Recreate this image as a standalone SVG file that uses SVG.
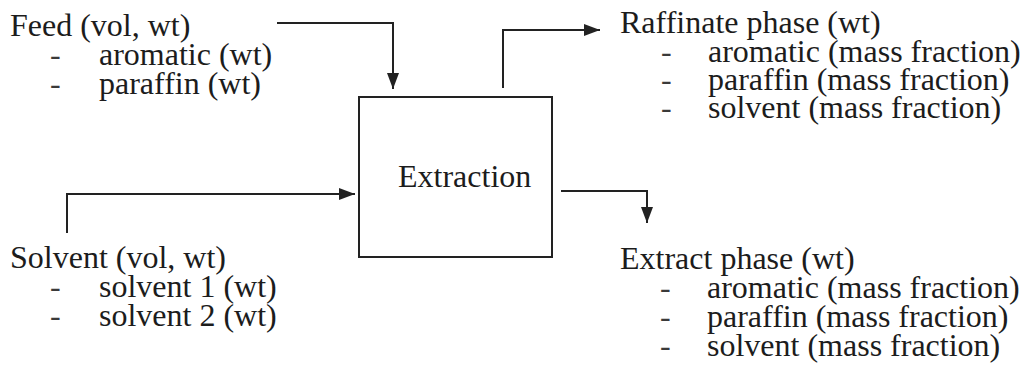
<svg xmlns="http://www.w3.org/2000/svg" width="1024" height="373" viewBox="0 0 1024 373">
  <style>
    text { font-family: "Liberation Serif", "Times New Roman", serif; font-size: 32px; fill: #1c1c1c; }
    .dash { fill: #3a3a3a; }
    .line { fill: none; stroke: #222; stroke-width: 2; }
    .box { fill: #fff; stroke: #222; stroke-width: 2; }
  </style>
  <defs>
    <marker id="head" viewBox="0 0 16 12" refX="16" refY="6" markerWidth="16" markerHeight="12" markerUnits="userSpaceOnUse" orient="auto">
      <path d="M0,0 L16,6 L0,12 Z" fill="#222"/>
    </marker>
  </defs>
  <rect width="1024" height="373" fill="#fff"/>

  <g id="connectors">
    <!-- feed stream into the top of the extractor -->
    <path class="line" d="M277,23 H393 V89" marker-end="url(#head)"/>
    <!-- solvent stream into the left side -->
    <path class="line" d="M67,233 V194 H355" marker-end="url(#head)"/>
    <!-- raffinate leaving from the top -->
    <path class="line" d="M503,88 V30 H600" marker-end="url(#head)"/>
    <!-- extract leaving from the right side -->
    <path class="line" d="M561,191 H647 V223" marker-end="url(#head)"/>
  </g>

  <g id="extraction">
    <rect class="box" x="359" y="97" width="193" height="160"/>
    <text x="398" y="187">Extraction</text>
  </g>

  <!-- each stream is one text block: heading line plus dashed item lines -->
  <g id="feed">
    <text>
      <tspan x="10" y="36">Feed (vol, wt)</tspan>
      <tspan class="dash" x="50" y="65">-</tspan><tspan x="99" y="65">aromatic (wt)</tspan>
      <tspan class="dash" x="50" y="94">-</tspan><tspan x="99" y="94">paraffin (wt)</tspan>
    </text>
  </g>

  <g id="solvent">
    <text>
      <tspan x="10" y="268">Solvent (vol, wt)</tspan>
      <tspan class="dash" x="50" y="297">-</tspan><tspan x="99" y="297">solvent 1 (wt)</tspan>
      <tspan class="dash" x="50" y="326">-</tspan><tspan x="99" y="326">solvent 2 (wt)</tspan>
    </text>
  </g>

  <g id="raffinate">
    <text>
      <tspan x="620" y="33">Raffinate phase (wt)</tspan>
      <tspan class="dash" x="661" y="62">-</tspan><tspan x="708" y="62">aromatic (mass fraction)</tspan>
      <tspan class="dash" x="661" y="90">-</tspan><tspan x="708" y="90">paraffin (mass fraction)</tspan>
      <tspan class="dash" x="661" y="118">-</tspan><tspan x="708" y="118">solvent (mass fraction)</tspan>
    </text>
  </g>

  <g id="extract">
    <text>
      <tspan x="620" y="269">Extract phase (wt)</tspan>
      <tspan class="dash" x="660" y="298">-</tspan><tspan x="707" y="298">aromatic (mass fraction)</tspan>
      <tspan class="dash" x="660" y="327">-</tspan><tspan x="707" y="327">paraffin (mass fraction)</tspan>
      <tspan class="dash" x="660" y="356">-</tspan><tspan x="707" y="356">solvent (mass fraction)</tspan>
    </text>
  </g>
</svg>
